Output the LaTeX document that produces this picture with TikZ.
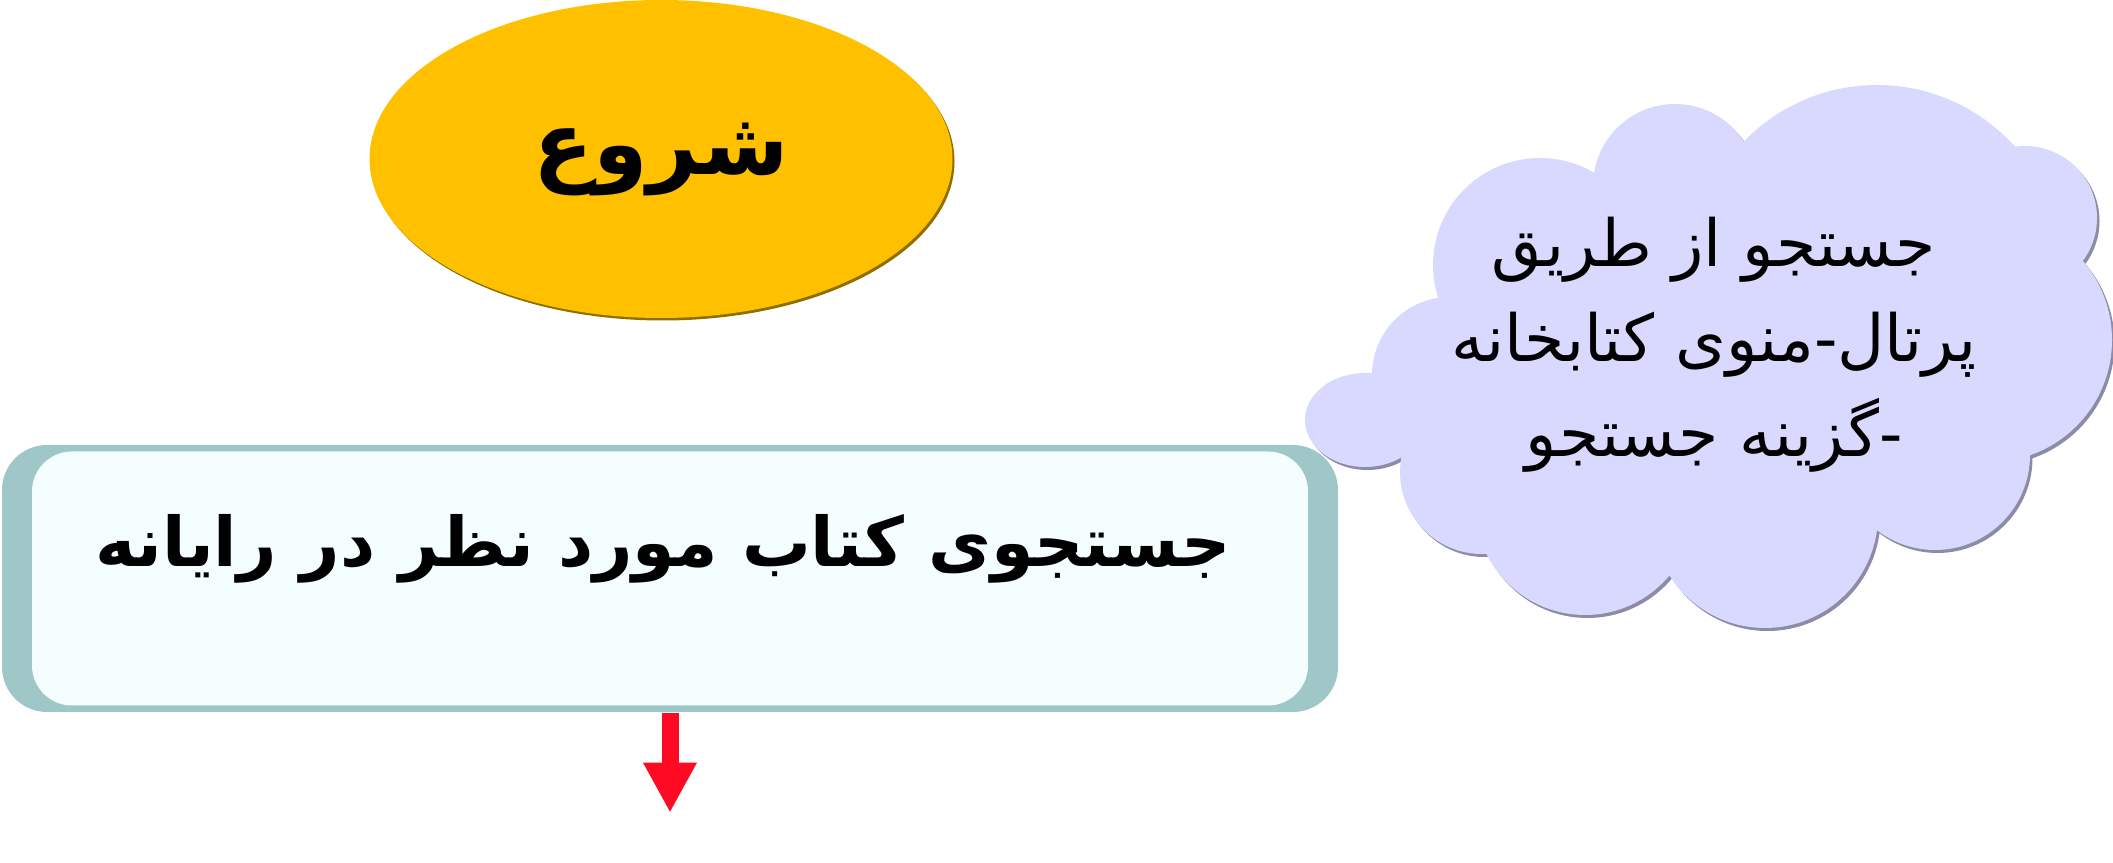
\documentclass[tikz,border=0pt]{standalone}
\usepackage{fontspec}
\usetikzlibrary{positioning, shapes.geometric, arrows.meta, shadows}
\newfontfamily\farsi[Script=Arabic]{DejaVu Sans}
\TeXXeTstate=1
\definecolor{startgold}{HTML}{FFC000}
\definecolor{startrim}{HTML}{8E6F00}
\definecolor{boxouter}{HTML}{9FC7C7}
\definecolor{boxinner}{HTML}{F4FEFE}
\definecolor{cloudfill}{HTML}{D9D9FF}
\definecolor{cloudshade}{HTML}{8C8CA6}
\definecolor{arrowred}{HTML}{FF0A23}

\begin{document}
\begin{tikzpicture}[x=0.1mm, y=-0.1mm,
    startnode/.style={ellipse, fill=startgold, minimum width=58.3mm, minimum height=31.8mm, inner sep=0pt,
      drop shadow={shadow xshift=0.2mm, shadow yshift=-0.25mm, fill=startrim, opacity=1}},
    outerbox/.style={rectangle, rounded corners=4.5mm, fill=boxouter, minimum width=133.6mm, minimum height=26.7mm},
    innerbox/.style={rectangle, rounded corners=4mm, fill=boxinner, minimum width=127.6mm, minimum height=25.4mm},
    boxlabel/.style={anchor=base, inner sep=0pt, font=\fontsize{19.5pt}{24pt}\selectfont\farsi\bfseries},
    cloudlabel/.style={align=center, inner sep=0pt, font=\fontsize{18.5pt}{27pt}\selectfont\farsi},
    flowarrow/.style={draw=arrowred, line width=1.7mm, -{Triangle[width=5mm, length=5mm]}}]
  \useasboundingbox (0,0) rectangle (2113,863);

  \node[startnode] (start) at (661,159) {\fontsize{25pt}{30pt}\selectfont\farsi\bfseries\beginR شروع\endR};

  \node[outerbox] (search) at (670,578.5) {};
  \node[innerbox] (searchin) at (search.center) {};
  \node[boxlabel] (searchlabel) at (663,567) {\beginR جستجوی کتاب مورد نظر در رایانه\endR};

  \coordinate[below=10mm of search.south] (tip);
  \draw[flowarrow] (search.south) -- (tip);

  \foreach \dx/\dy/\col in {2.5/3/cloudshade, 0/0/cloudfill}{
    \fill[\col, shift={(\dx,\dy)}] (1540,265) circle[radius=107] (1675,186) circle[radius=82]
      (1877,270) circle[radius=185] (2025,218) circle[radius=72] (1990,340) circle[radius=122]
      (1935,455) circle[radius=95] (1765,515) circle[radius=113] (1585,505) circle[radius=110]
      (1482,472) circle[radius=82] (1450,375) circle[radius=78]
      (1365,420) ellipse[x radius=60, y radius=47];
    \fill[\col, shift={(\dx,\dy)}] (1540,265) -- (1675,186) -- (1877,270) -- (2025,218) -- (1990,340)
      -- (1935,455) -- (1765,515) -- (1585,505) -- (1482,472) -- (1365,420) -- (1450,375) -- cycle;
  }

  \node[cloudlabel] (portal) at (1714,345) {\beginR جستجو از طریق\endR\\
    \beginR پرتال\mbox{-}منوی کتابخانه\endR\\
    \beginR \mbox{-}گزینه جستجو\endR};
\end{tikzpicture}
\end{document}
